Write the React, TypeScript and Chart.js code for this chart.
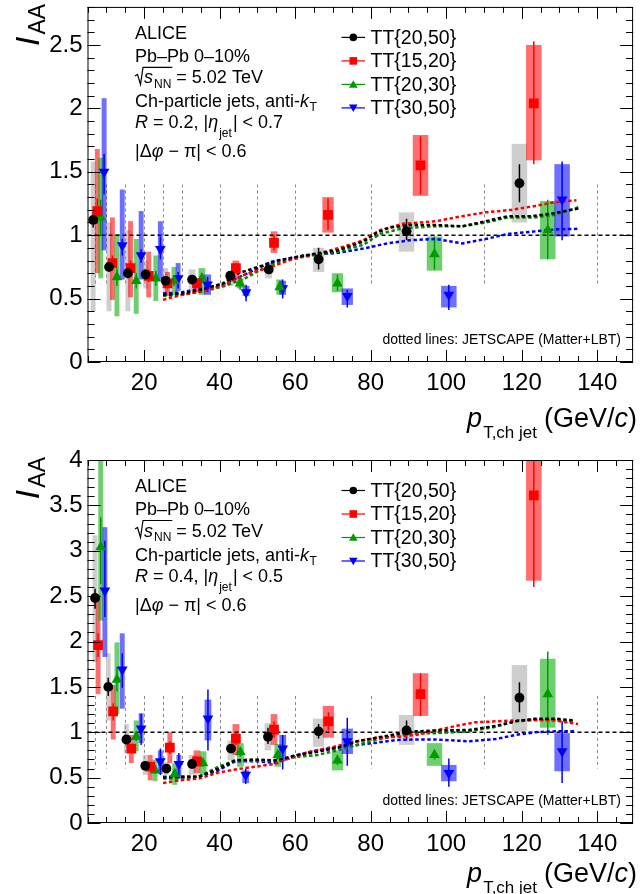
import React, { useEffect, useRef } from 'react';
import { Chart, registerables } from 'chart.js';

Chart.register(...registerables);

// ---------------- data ----------------
const binEdges = [7, 10, 15, 20, 25, 30, 40, 50, 60, 80, 110, 140];
const binLineRange = [0.6, 1.4];
const boxHalfWidth = [0.65, 0.65, 0.65, 0.65, 0.65, 0.9, 0.9, 0.9, 1.5, 2.05, 2.05];
const xTickLabels = ['20', '40', '60', '80', '100', '120', '140'];
const r02YTickLabels = ['0', '0.5', '1', '1.5', '2', '2.5'];
const r04YTickLabels = ['0', '0.5', '1', '1.5', '2', '2.5', '3', '3.5', '4'];
const legendNames = ['TT{20,50}', 'TT{15,20}', 'TT{20,30}', 'TT{30,50}'];

// R = 0.2
const r02_tt2050_x = [6.5, 10.7, 15.7, 20.4, 25.7, 32.7, 42.8, 53.0, 66.2, 89.5, 119.4];
const r02_tt2050_y = [1.12, 0.75, 0.70, 0.69, 0.64, 0.65, 0.68, 0.73, 0.81, 1.03, 1.41];
const r02_tt2050_sysLo = [0.40, 0.40, 0.40, 0.58, 0.53, 0.56, 0.60, 0.66, 0.71, 0.87, 1.10];
const r02_tt2050_sysHi = [1.58, 1.10, 1.04, 0.80, 0.74, 0.73, 0.70, 0.79, 0.90, 1.18, 1.72];
const r02_tt2050_statLo = [1.06, 0.71, 0.66, 0.65, 0.61, 0.62, 0.65, 0.70, 0.73, 0.96, 1.26];
const r02_tt2050_statHi = [1.18, 0.79, 0.74, 0.73, 0.67, 0.68, 0.71, 0.76, 0.90, 1.13, 1.56];

const r02_tt1520_x = [7.6, 11.6, 16.4, 21.2, 26.2, 34.0, 44.3, 54.4, 68.7, 93.2, 123.2];
const r02_tt1520_y = [1.19, 0.78, 0.74, 0.68, 0.62, 0.62, 0.74, 0.94, 1.16, 1.55, 2.04];
const r02_tt1520_sysLo = [0.70, 0.49, 0.51, 0.51, 0.52, 0.55, 0.66, 0.86, 1.02, 1.31, 1.59];
const r02_tt1520_sysHi = [1.68, 1.14, 1.11, 0.87, 0.71, 0.66, 0.80, 1.03, 1.30, 1.79, 2.50];
const r02_tt1520_statLo = [1.09, 0.72, 0.68, 0.63, 0.58, 0.59, 0.70, 0.88, 1.04, 1.32, 1.56];
const r02_tt1520_statHi = [1.29, 0.84, 0.80, 0.73, 0.66, 0.65, 0.78, 1.00, 1.29, 1.78, 2.53];

const r02_tt2030_x = [8.5, 12.8, 17.9, 23.1, 27.9, 35.3, 45.4, 55.9, 71.2, 96.9, 126.9];
const r02_tt2030_y = [1.14, 0.67, 0.64, 0.66, 0.64, 0.66, 0.62, 0.59, 0.62, 0.85, 1.04];
const r02_tt2030_sysLo = [0.66, 0.36, 0.38, 0.48, 0.53, 0.53, 0.58, 0.53, 0.55, 0.72, 0.81];
const r02_tt2030_sysHi = [1.61, 1.01, 0.97, 0.84, 0.75, 0.74, 0.66, 0.65, 0.70, 0.99, 1.27];
const r02_tt2030_statLo = [1.00, 0.60, 0.58, 0.60, 0.60, 0.62, 0.57, 0.54, 0.56, 0.73, 0.81];
const r02_tt2030_statHi = [1.28, 0.74, 0.70, 0.72, 0.68, 0.70, 0.67, 0.64, 0.69, 0.99, 1.28];

const r02_tt3050_x = [9.4, 14.2, 19.2, 24.3, 29.0, 36.8, 47.0, 56.7, 73.8, 100.7, 130.7];
const r02_tt3050_y = [1.50, 0.92, 0.84, 0.89, 0.66, 0.61, 0.55, 0.58, 0.52, 0.53, 1.28];
const r02_tt3050_sysLo = [0.88, 0.65, 0.65, 0.65, 0.56, 0.53, 0.52, 0.53, 0.45, 0.43, 0.99];
const r02_tt3050_sysHi = [2.08, 1.36, 1.19, 1.11, 0.78, 0.69, 0.60, 0.64, 0.58, 0.60, 1.56];
const r02_tt3050_statLo = [1.32, 0.84, 0.78, 0.81, 0.58, 0.55, 0.48, 0.50, 0.43, 0.41, 0.96];
const r02_tt3050_statHi = [1.64, 0.97, 0.89, 0.99, 0.71, 0.67, 0.61, 0.65, 0.57, 0.61, 1.58];

const r02_model2050_x = [25, 30, 35, 40.6, 45, 50.2, 55.4, 62.4, 71.1, 78.1, 81.6, 85.1, 90.4, 97.3, 104.3, 110.4, 116.5, 122.7, 127.9, 135];
const r02_model2050_y = [0.53, 0.54, 0.57, 0.615, 0.70, 0.75, 0.80, 0.84, 0.88, 0.95, 1.02, 1.06, 1.08, 1.08, 1.07, 1.11, 1.15, 1.15, 1.17, 1.21];
const r02_model1520_x = [25, 30, 36.2, 41.5, 46.7, 53.7, 59.8, 66.8, 72.9, 78.1, 82.5, 88.6, 97.3, 104.3, 110.4, 117.4, 123.5, 128.8, 134.5];
const r02_model1520_y = [0.49, 0.53, 0.565, 0.61, 0.69, 0.75, 0.82, 0.86, 0.91, 0.96, 1.04, 1.09, 1.11, 1.15, 1.18, 1.20, 1.23, 1.26, 1.275];
const r02_model2030_x = [25, 30, 35.3, 41.5, 46.7, 53.7, 62.4, 71.1, 78.1, 82.5, 88.6, 97.3, 104.3, 110.4, 116.5, 123.5, 128.8, 135];
const r02_model2030_y = [0.52, 0.53, 0.555, 0.60, 0.66, 0.77, 0.83, 0.87, 0.925, 1.01, 1.055, 1.07, 1.07, 1.10, 1.14, 1.14, 1.16, 1.22];
const r02_model3050_x = [25, 30, 35.3, 41.5, 46.7, 53.7, 62.4, 71.1, 78.1, 84.3, 90.4, 97.3, 104.3, 110.4, 116.5, 123.5, 128.8, 134.9];
const r02_model3050_y = [0.54, 0.55, 0.58, 0.62, 0.69, 0.79, 0.84, 0.86, 0.895, 0.935, 0.96, 0.97, 0.935, 0.97, 1.01, 1.03, 1.045, 1.05];

// R = 0.4
const r04_tt2050_x = [7.0, 10.5, 15.3, 20.3, 25.9, 32.7, 43.0, 52.8, 66.2, 89.5, 119.4];
const r04_tt2050_y = [2.48, 1.50, 0.92, 0.63, 0.60, 0.65, 0.82, 0.95, 1.01, 1.02, 1.38];
const r04_tt2050_sysLo = [1.77, 1.13, 0.77, 0.53, 0.53, 0.53, 0.69, 0.80, 0.84, 0.86, 1.01];
const r04_tt2050_sysHi = [3.17, 1.87, 1.09, 0.75, 0.67, 0.75, 0.91, 1.10, 1.15, 1.19, 1.74];
const r04_tt2050_statLo = [2.36, 1.40, 0.88, 0.59, 0.56, 0.61, 0.78, 0.87, 0.93, 0.91, 1.22];
const r04_tt2050_statHi = [2.58, 1.60, 0.96, 0.67, 0.64, 0.69, 0.86, 1.05, 1.09, 1.13, 1.55];

const r04_tt1520_x = [7.8, 11.8, 16.6, 21.6, 26.8, 34.0, 44.3, 54.4, 68.8, 93.2, 123.2];
const r04_tt1520_y = [1.96, 1.23, 0.82, 0.62, 0.83, 0.68, 0.93, 1.03, 1.12, 1.42, 3.61];
const r04_tt1520_sysLo = [1.42, 0.92, 0.66, 0.47, 0.66, 0.55, 0.75, 0.86, 0.94, 1.18, 2.67];
const r04_tt1520_sysHi = [2.52, 1.52, 0.97, 0.75, 1.00, 0.80, 1.09, 1.20, 1.29, 1.65, 4.6];
const r04_tt1520_statLo = [1.83, 1.13, 0.77, 0.58, 0.76, 0.63, 0.86, 0.94, 1.02, 1.18, 2.60];
const r04_tt1520_statHi = [2.09, 1.32, 0.87, 0.66, 0.90, 0.73, 1.00, 1.12, 1.22, 1.65, 4.7];

const r04_tt2030_x = [8.5, 12.8, 17.9, 22.9, 28.1, 35.6, 45.5, 55.4, 71.2, 96.9, 126.9];
const r04_tt2030_y = [3.04, 1.58, 0.95, 0.58, 0.54, 0.66, 0.78, 0.75, 0.69, 0.75, 1.42];
const r04_tt2030_sysLo = [2.23, 1.20, 0.79, 0.46, 0.42, 0.53, 0.62, 0.62, 0.58, 0.63, 1.05];
const r04_tt2030_sysHi = [4.1, 1.99, 1.13, 0.70, 0.66, 0.79, 0.88, 0.87, 0.80, 0.88, 1.81];
const r04_tt2030_statLo = [2.63, 1.45, 0.90, 0.54, 0.50, 0.62, 0.73, 0.70, 0.64, 0.70, 0.97];
const r04_tt2030_statHi = [3.37, 1.72, 1.00, 0.62, 0.58, 0.70, 0.83, 0.80, 0.74, 0.80, 1.89];

const r04_tt3050_x = [9.6, 14.2, 19.2, 24.3, 29.2, 36.9, 46.9, 56.7, 73.8, 100.7, 130.7];
const r04_tt3050_y = [2.56, 1.69, 1.04, 0.68, 0.65, 1.15, 0.53, 0.82, 0.90, 0.55, 0.79];
const r04_tt3050_sysLo = [1.83, 1.26, 0.88, 0.54, 0.49, 0.91, 0.44, 0.68, 0.76, 0.46, 0.57];
const r04_tt3050_sysHi = [3.26, 2.09, 1.21, 0.80, 0.75, 1.36, 0.58, 0.97, 1.04, 0.64, 0.99];
const r04_tt3050_statLo = [2.27, 1.49, 0.86, 0.53, 0.49, 0.80, 0.43, 0.59, 0.63, 0.40, 0.44];
const r04_tt3050_statHi = [3.11, 1.87, 1.20, 0.82, 0.77, 1.47, 0.60, 0.97, 1.16, 0.71, 1.12];

const r04_model2050_x = [25, 29.2, 34.5, 39.7, 44.1, 49.3, 54.6, 60.7, 65.9, 71.2, 76.4, 81.6, 86.9, 92.1, 97.3, 106.1, 113.1, 118.3, 123.5, 128.8, 134];
const r04_model2050_y = [0.50, 0.51, 0.51, 0.60, 0.69, 0.70, 0.69, 0.75, 0.785, 0.83, 0.90, 0.94, 0.98, 1.01, 1.02, 1.025, 1.07, 1.12, 1.15, 1.15, 1.13];
const r04_model1520_x = [25, 29.2, 34.5, 39.7, 44.1, 49.3, 54.6, 58.9, 63.3, 70.3, 76.4, 81.6, 86.9, 92.1, 97.3, 102.6, 107.8, 113.1, 118.3, 123.5, 128.8, 134.9];
const r04_model1520_y = [0.44, 0.47, 0.49, 0.555, 0.59, 0.62, 0.65, 0.72, 0.78, 0.84, 0.90, 0.94, 0.95, 0.97, 1.02, 1.07, 1.11, 1.12, 1.13, 1.135, 1.13, 1.09];
const r04_model2030_x = [25, 29.2, 34.5, 39.7, 44.1, 49.3, 54.6, 60.7, 65.9, 71.2, 76.4, 81.6, 86.9, 92.1, 97.3, 106.1, 113.1, 118.3, 123.5, 128.8, 134];
const r04_model2030_y = [0.49, 0.49, 0.51, 0.62, 0.69, 0.69, 0.69, 0.73, 0.75, 0.80, 0.86, 0.92, 0.96, 0.99, 0.99, 1.01, 1.06, 1.12, 1.135, 1.135, 1.12];
const r04_model3050_x = [25, 29.2, 34.5, 39.7, 44.1, 49.3, 54.6, 60.7, 65.9, 71.2, 76.4, 81.6, 86.9, 92.1, 97.3, 106.1, 113.1, 118.3, 123.5, 128.8, 134];
const r04_model3050_y = [0.51, 0.51, 0.51, 0.58, 0.68, 0.68, 0.665, 0.75, 0.80, 0.83, 0.86, 0.885, 0.915, 0.92, 0.92, 0.90, 0.925, 0.97, 1.0, 1.01, 1.01];

// ---------------- styling / drawing ----------------
const FONT = '"Liberation Sans", Arial, Helvetica, sans-serif';
const f = (size: number, italic = false) => `${italic ? 'italic ' : ''}${size}px ${FONT}`;

type Marker = 'circle' | 'rect' | 'triangle' | 'down';
type Series = {
  name: string; x: number[]; y: number[]; sysLo: number[]; sysHi: number[];
  statLo: number[]; statHi: number[]; color: string; boxColor: string; marker: Marker;
};
type Model = { x: number[]; y: number[]; color: string };
type Panel = {
  yMax: number; yLabels: string[]; rText: string; etaText: string;
  padTop: number; padBottom: number; titleGap: number; series: Series[]; models: Model[];
};

const colBlack = '#000000', colRed = '#ff0000', colGreen = '#009a00', colBlue = '#0000ff';
const boxBlack = 'rgba(165,165,165,0.55)', boxRed = 'rgba(255,0,0,0.57)', boxGreen = 'rgba(0,170,0,0.57)', boxBlue = 'rgba(0,0,255,0.57)';
const modelColors = ['#000000', '#ff0000', '#008a00', '#0000ff'];

const mk = (name: string, x: number[], y: number[], sl: number[], sh: number[], tl: number[], th: number[], color: string, boxColor: string, marker: Marker): Series =>
  ({ name, x, y, sysLo: sl, sysHi: sh, statLo: tl, statHi: th, color, boxColor, marker });

const topPanel: Panel = {
  yMax: 2.8, yLabels: r02YTickLabels, rText: '0.2', etaText: '0.7', padTop: 1, padBottom: 85, titleGap: 65,
  series: [
    mk(legendNames[0], r02_tt2050_x, r02_tt2050_y, r02_tt2050_sysLo, r02_tt2050_sysHi, r02_tt2050_statLo, r02_tt2050_statHi, colBlack, boxBlack, 'circle'),
    mk(legendNames[1], r02_tt1520_x, r02_tt1520_y, r02_tt1520_sysLo, r02_tt1520_sysHi, r02_tt1520_statLo, r02_tt1520_statHi, colRed, boxRed, 'rect'),
    mk(legendNames[2], r02_tt2030_x, r02_tt2030_y, r02_tt2030_sysLo, r02_tt2030_sysHi, r02_tt2030_statLo, r02_tt2030_statHi, colGreen, boxGreen, 'triangle'),
    mk(legendNames[3], r02_tt3050_x, r02_tt3050_y, r02_tt3050_sysLo, r02_tt3050_sysHi, r02_tt3050_statLo, r02_tt3050_statHi, colBlue, boxBlue, 'down'),
  ],
  models: [
    { x: r02_model2050_x, y: r02_model2050_y, color: modelColors[0] },
    { x: r02_model1520_x, y: r02_model1520_y, color: modelColors[1] },
    { x: r02_model2030_x, y: r02_model2030_y, color: modelColors[2] },
    { x: r02_model3050_x, y: r02_model3050_y, color: modelColors[3] },
  ],
};

const bottomPanel: Panel = {
  yMax: 4, yLabels: r04YTickLabels, rText: '0.4', etaText: '0.5', padTop: 13, padBottom: 71, titleGap: 59,
  series: [
    mk(legendNames[0], r04_tt2050_x, r04_tt2050_y, r04_tt2050_sysLo, r04_tt2050_sysHi, r04_tt2050_statLo, r04_tt2050_statHi, colBlack, boxBlack, 'circle'),
    mk(legendNames[1], r04_tt1520_x, r04_tt1520_y, r04_tt1520_sysLo, r04_tt1520_sysHi, r04_tt1520_statLo, r04_tt1520_statHi, colRed, boxRed, 'rect'),
    mk(legendNames[2], r04_tt2030_x, r04_tt2030_y, r04_tt2030_sysLo, r04_tt2030_sysHi, r04_tt2030_statLo, r04_tt2030_statHi, colGreen, boxGreen, 'triangle'),
    mk(legendNames[3], r04_tt3050_x, r04_tt3050_y, r04_tt3050_sysLo, r04_tt3050_sysHi, r04_tt3050_statLo, r04_tt3050_statHi, colBlue, boxBlue, 'down'),
  ],
  models: [
    { x: r04_model2050_x, y: r04_model2050_y, color: modelColors[0] },
    { x: r04_model1520_x, y: r04_model1520_y, color: modelColors[1] },
    { x: r04_model2030_x, y: r04_model2030_y, color: modelColors[2] },
    { x: r04_model3050_x, y: r04_model3050_y, color: modelColors[3] },
  ],
};

function drawMarker(ctx: CanvasRenderingContext2D, kind: Marker, cx: number, cy: number, r: number, color: string) {
  ctx.fillStyle = color;
  ctx.beginPath();
  if (kind === 'circle') ctx.arc(cx, cy, r, 0, Math.PI * 2);
  else if (kind === 'rect') ctx.rect(cx - r, cy - r, 2 * r, 2 * r);
  else if (kind === 'triangle') {
    ctx.moveTo(cx, cy - r); ctx.lineTo(cx + r * 0.866, cy + r * 0.5); ctx.lineTo(cx - r * 0.866, cy + r * 0.5); ctx.closePath();
  } else {
    ctx.moveTo(cx, cy + r); ctx.lineTo(cx + r * 0.866, cy - r * 0.5); ctx.lineTo(cx - r * 0.866, cy - r * 0.5); ctx.closePath();
  }
  ctx.fill();
}

function txt(ctx: CanvasRenderingContext2D, s: string, x: number, y: number, size: number, italic = false) {
  ctx.font = f(size, italic);
  ctx.fillText(s, x, y);
  return x + ctx.measureText(s).width;
}

function line(ctx: CanvasRenderingContext2D, x1: number, y1: number, x2: number, y2: number) {
  ctx.beginPath(); ctx.moveTo(x1, y1); ctx.lineTo(x2, y2); ctx.stroke();
}

function panelPlugin(p: Panel) {
  return {
    id: 'rootPanel',
    beforeDatasetsDraw(chart: any) {
      const { ctx, chartArea: a } = chart;
      const xs = chart.scales.x, ys = chart.scales.y;
      ctx.save();
      ctx.beginPath(); ctx.rect(a.left, a.top, a.right - a.left, a.bottom - a.top); ctx.clip();
      // bin edge lines
      ctx.strokeStyle = '#8a8a8a'; ctx.lineWidth = 1; ctx.setLineDash([3, 3]);
      for (const e of binEdges) {
        const px = Math.round(xs.getPixelForValue(e)) + 0.5;
        line(ctx, px, ys.getPixelForValue(binLineRange[1]), px, ys.getPixelForValue(binLineRange[0]));
      }
      ctx.setLineDash([]);
      // systematic boxes
      for (const s of p.series) {
        ctx.fillStyle = s.boxColor;
        s.x.forEach((xv, i) => {
          const l = xs.getPixelForValue(xv - boxHalfWidth[i]);
          const r = xs.getPixelForValue(xv + boxHalfWidth[i]);
          const t = ys.getPixelForValue(s.sysHi[i]);
          const b = ys.getPixelForValue(s.sysLo[i]);
          ctx.fillRect(l, t, r - l, b - t);
        });
      }
      // unity line
      ctx.strokeStyle = '#000'; ctx.lineWidth = 1.5; ctx.setLineDash([4, 3]);
      const py1 = ys.getPixelForValue(1);
      line(ctx, a.left, py1, a.right, py1);
      ctx.setLineDash([]);
      // statistical errors
      for (const s of p.series) {
        ctx.strokeStyle = s.color; ctx.lineWidth = 1.5;
        s.x.forEach((xv, i) => {
          const px = xs.getPixelForValue(xv);
          line(ctx, px, ys.getPixelForValue(s.statHi[i]), px, ys.getPixelForValue(s.statLo[i]));
        });
      }
      ctx.restore();
    },
    afterDraw(chart: any) {
      const { ctx, chartArea: a } = chart;
      const xs = chart.scales.x, ys = chart.scales.y;
      ctx.save();
      ctx.fillStyle = '#000'; ctx.strokeStyle = '#000'; ctx.lineWidth = 1; ctx.setLineDash([]);
      ctx.strokeRect(a.left + 0.5, a.top + 0.5, a.right - a.left - 1, a.bottom - a.top - 1);
      // x ticks
      for (let v = 5; v <= 145; v += 5) {
        const px = Math.round(xs.getPixelForValue(v)) + 0.5;
        const L = v % 20 === 0 ? 12 : 6;
        line(ctx, px, a.bottom, px, a.bottom - L);
        line(ctx, px, a.top, px, a.top + L);
      }
      // y ticks
      const nMinor = Math.round(p.yMax * 10);
      for (let k = 0; k <= nMinor; k++) {
        const py = Math.round(ys.getPixelForValue(k / 10)) + 0.5;
        const L = k % 5 === 0 ? 13 : 7;
        line(ctx, a.left, py, a.left + L, py);
        line(ctx, a.right, py, a.right - L, py);
      }
      // tick labels
      ctx.font = f(24);
      ctx.textAlign = 'center'; ctx.textBaseline = 'middle';
      for (const lab of xTickLabels) ctx.fillText(lab, xs.getPixelForValue(parseFloat(lab)), a.bottom + 21);
      ctx.textAlign = 'right';
      for (const lab of p.yLabels) ctx.fillText(lab, a.left - 5, ys.getPixelForValue(parseFloat(lab)));
      ctx.textAlign = 'left'; ctx.textBaseline = 'alphabetic';

      // x title (right aligned)
      const tb = a.bottom + p.titleGap;
      ctx.font = f(27, true); const wp = ctx.measureText('p').width;
      ctx.font = f(17); const wsub = ctx.measureText('T,ch jet').width;
      ctx.font = f(27); const wg = ctx.measureText('(GeV/').width; const wcl = ctx.measureText(')').width;
      ctx.font = f(27, true); const wc = ctx.measureText('c').width;
      let xx = 637 - (wp + wsub + 8 + wg + wc + wcl);
      xx = txt(ctx, 'p', xx, tb, 27, true);
      txt(ctx, 'T,ch jet', xx + 1, tb + 11, 17);
      xx += wsub + 8;
      xx = txt(ctx, '(GeV/', xx, tb, 27);
      xx = txt(ctx, 'c', xx, tb, 27, true);
      txt(ctx, ')', xx, tb, 27);

      // y title (rotated)
      ctx.save();
      ctx.translate(39, a.top - 3);
      ctx.rotate(-Math.PI / 2);
      ctx.font = f(23); const wAA = ctx.measureText('AA').width;
      ctx.font = f(34, true); const wI = ctx.measureText('I').width;
      txt(ctx, 'I', -(wAA + wI + 2), 0, 34, true);
      txt(ctx, 'AA', -wAA, 6, 23);
      ctx.restore();

      // annotations
      const o = a.top - 1;
      const x0 = 135;
      txt(ctx, 'ALICE', x0, o + 33, 18);
      txt(ctx, 'Pb\u2013Pb 0\u201310%', x0, o + 56, 18);
      // sqrt(s_NN)
      let sx = txt(ctx, 's', x0 + 9, o + 77.5, 18, true);
      sx = txt(ctx, 'NN', sx + 1, o + 82, 12);
      ctx.lineWidth = 1.2;
      ctx.beginPath();
      ctx.moveTo(x0, o + 70); ctx.lineTo(x0 + 2.5, o + 68.5); ctx.lineTo(x0 + 5.5, o + 78.5);
      ctx.lineTo(x0 + 8, o + 61.5); ctx.lineTo(sx + 1, o + 61.5);
      ctx.stroke();
      txt(ctx, ' = 5.02 TeV', sx, o + 77.5, 18);
      let cx = txt(ctx, 'Ch-particle jets, anti-', x0, o + 101.5, 18);
      cx = txt(ctx, 'k', cx, o + 101.5, 18, true);
      txt(ctx, 'T', cx + 0.5, o + 105.5, 12);
      let rx = txt(ctx, 'R', x0, o + 122.5, 18, true);
      rx = txt(ctx, ` = ${p.rText}, |`, rx, o + 122.5, 18);
      rx = txt(ctx, '\u03b7', rx, o + 122.5, 18, true);
      rx = txt(ctx, 'jet', rx + 1, o + 131.5, 12);
      txt(ctx, `| < ${p.etaText}`, rx + 1, o + 122.5, 18);
      let dx = txt(ctx, '|\u0394', x0, o + 151.5, 18);
      dx = txt(ctx, '\u03c6', dx, o + 151.5, 18, true);
      txt(ctx, ' \u2212 \u03c0| < 0.6', dx, o + 151.5, 18);

      // legend
      const legY = [31.5, 55, 78.5, 102];
      p.series.forEach((s, i) => {
        const cy = o + legY[i];
        ctx.strokeStyle = s.color; ctx.lineWidth = 1.2;
        line(ctx, 341.5, cy, 365, cy);
        const r = s.marker === 'circle' ? 3.8 : s.marker === 'rect' ? 3.8 : 5;
        drawMarker(ctx, s.marker, 353.3, cy + (s.marker === 'triangle' ? 0.8 : s.marker === 'down' ? -0.8 : 0), r, s.color);
        ctx.fillStyle = '#000';
        ctx.textBaseline = 'middle';
        txt(ctx, s.name, 370.5, cy + 1, 19.5);
        ctx.textBaseline = 'alphabetic';
      });

      // footnote
      ctx.font = f(14); ctx.textAlign = 'right'; ctx.fillStyle = '#000';
      ctx.fillText('dotted lines: JETSCAPE (Matter+LBT)', 621, a.bottom - 18);
      ctx.restore();
    },
  };
}

function buildChart(canvas: HTMLCanvasElement, p: Panel) {
  const markerSets = p.series.map((s) => ({
    type: 'scatter' as const,
    label: s.name,
    data: s.x.map((xv, i) => ({ x: xv, y: s.y[i] })),
    pointStyle: s.marker === 'circle' ? 'circle' : s.marker === 'rect' ? 'rect' : 'triangle',
    pointRotation: s.marker === 'down' ? 180 : 0,
    pointRadius: s.marker === 'circle' ? 4.9 : s.marker === 'rect' ? 6.9 : 6.2,
    pointBackgroundColor: s.color,
    pointBorderColor: s.color,
    pointBorderWidth: 0,
    showLine: false,
  }));
  const modelSets = p.models.map((m, i) => ({
    type: 'scatter' as const,
    label: 'model' + i,
    data: m.x.map((xv, j) => ({ x: xv, y: m.y[j] })),
    showLine: true,
    borderColor: m.color,
    borderWidth: 2.5,
    borderDash: [3.5, 2.5],
    pointRadius: 0,
    fill: false,
    tension: 0,
  }));
  return new Chart(canvas, {
    type: 'scatter',
    data: { datasets: [...markerSets, ...modelSets] as any },
    options: {
      animation: false,
      responsive: false,
      events: [],
      layout: { padding: { left: 87.5, right: 1, top: p.padTop, bottom: p.padBottom } },
      plugins: { legend: { display: false }, tooltip: { enabled: false } },
      scales: {
        x: { type: 'linear', min: 5, max: 149.5, display: false },
        y: { type: 'linear', min: 0, max: p.yMax, display: false },
      },
    },
    plugins: [panelPlugin(p)],
  });
}

export default function App() {
  const topRef = useRef<HTMLCanvasElement>(null);
  const botRef = useRef<HTMLCanvasElement>(null);
  useEffect(() => {
    document.body.style.margin = '0';
    const c1 = buildChart(topRef.current!, topPanel);
    const c2 = buildChart(botRef.current!, bottomPanel);
    return () => { c1.destroy(); c2.destroy(); };
  }, []);
  return (
    <div style={{ position: 'absolute', left: 0, top: 0, width: 640, height: 894, background: '#fff' }}>
      <canvas ref={topRef} width={640} height={447} style={{ display: 'block', width: 640, height: 447 }} />
      <canvas ref={botRef} width={640} height={447} style={{ display: 'block', width: 640, height: 447 }} />
    </div>
  );
}
